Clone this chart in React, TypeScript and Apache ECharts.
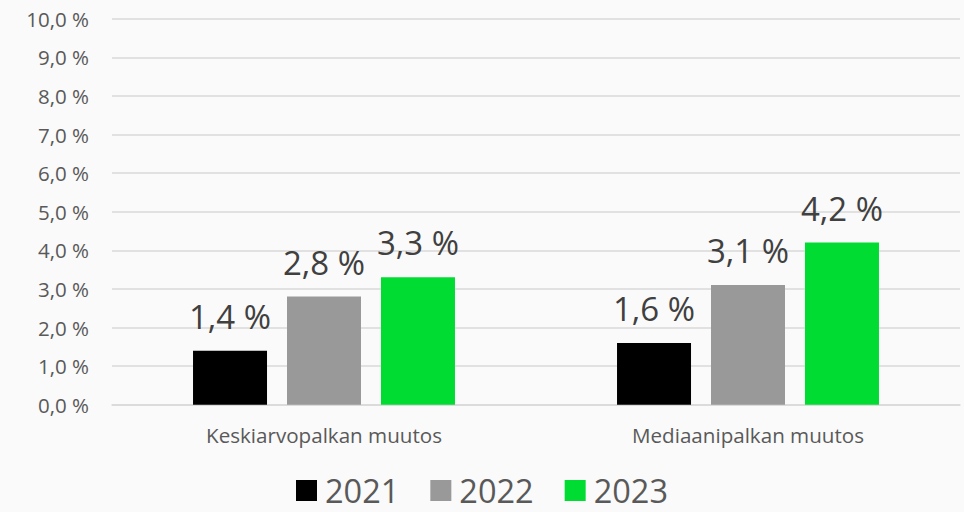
import React, { useEffect, useRef } from "react";
import * as echarts from "echarts";

const categories = ["Keskiarvopalkan muutos", "Mediaanipalkan muutos"];
const seriesNames = ["2021", "2022", "2023"];
const values2021 = [1.4, 1.6];
const values2022 = [2.8, 3.1];
const values2023 = [3.3, 4.2];
const seriesColors = ["#000000", "#999999", "#00dc32"];

const fmt = (v: number) => v.toFixed(1).replace(".", ",") + " %";
const FONT = "'Open Sans', 'Noto Sans', sans-serif";

export default function App() {
  const ref = useRef<HTMLDivElement>(null);
  useEffect(() => {
    if (!ref.current) return;
    const chart = echarts.init(ref.current, undefined, { renderer: "svg" });
    const data = [values2021, values2022, values2023];
    chart.setOption({
      animation: false,
      backgroundColor: "#fafafa",
      textStyle: { fontFamily: FONT },
      grid: { left: 112, right: 4, top: 18.7, bottom: 107.3, containLabel: false },
      legend: {
        bottom: 5,
        left: "center",
        padding: 0,
        itemWidth: 21,
        itemHeight: 21,
        itemGap: 31,
        icon: "rect",
        textStyle: { fontSize: 32.5, color: "#595959", fontFamily: FONT, padding: [0, 0, 0, 3] },
        data: seriesNames,
      },
      xAxis: {
        type: "category",
        data: categories,
        axisLine: { show: true, lineStyle: { color: "#d9d9d9", width: 1.5 } },
        axisTick: { show: false },
        axisLabel: { fontSize: 20.6, color: "#595959", margin: 20, fontFamily: FONT },
      },
      yAxis: {
        type: "value",
        min: 0,
        max: 10,
        interval: 1,
        axisLine: { show: false },
        axisTick: { show: false },
        splitLine: { lineStyle: { color: "#d9d9d9", width: 1.5 } },
        axisLabel: {
          fontSize: 20.5,
          color: "#595959",
          margin: 23,
          fontFamily: FONT,
          formatter: (v: number) => fmt(v),
        },
      },
      series: seriesNames.map((name, i) => ({
        name,
        type: "bar",
        data: data[i],
        barWidth: 74,
        barGap: "27%",
        barCategoryGap: "38%",
        itemStyle: { color: seriesColors[i] },
        label: {
          show: true,
          position: "top",
          distance: 18,
          fontSize: 33,
          color: "#404040",
          fontFamily: FONT,
          formatter: (p: any) => fmt(p.value),
        },
      })),
    });
    return () => chart.dispose();
  }, []);
  return (
    <div
      ref={ref}
      style={{ position: "fixed", left: 0, top: 0, width: 964, height: 512, background: "#fafafa" }}
    />
  );
}
